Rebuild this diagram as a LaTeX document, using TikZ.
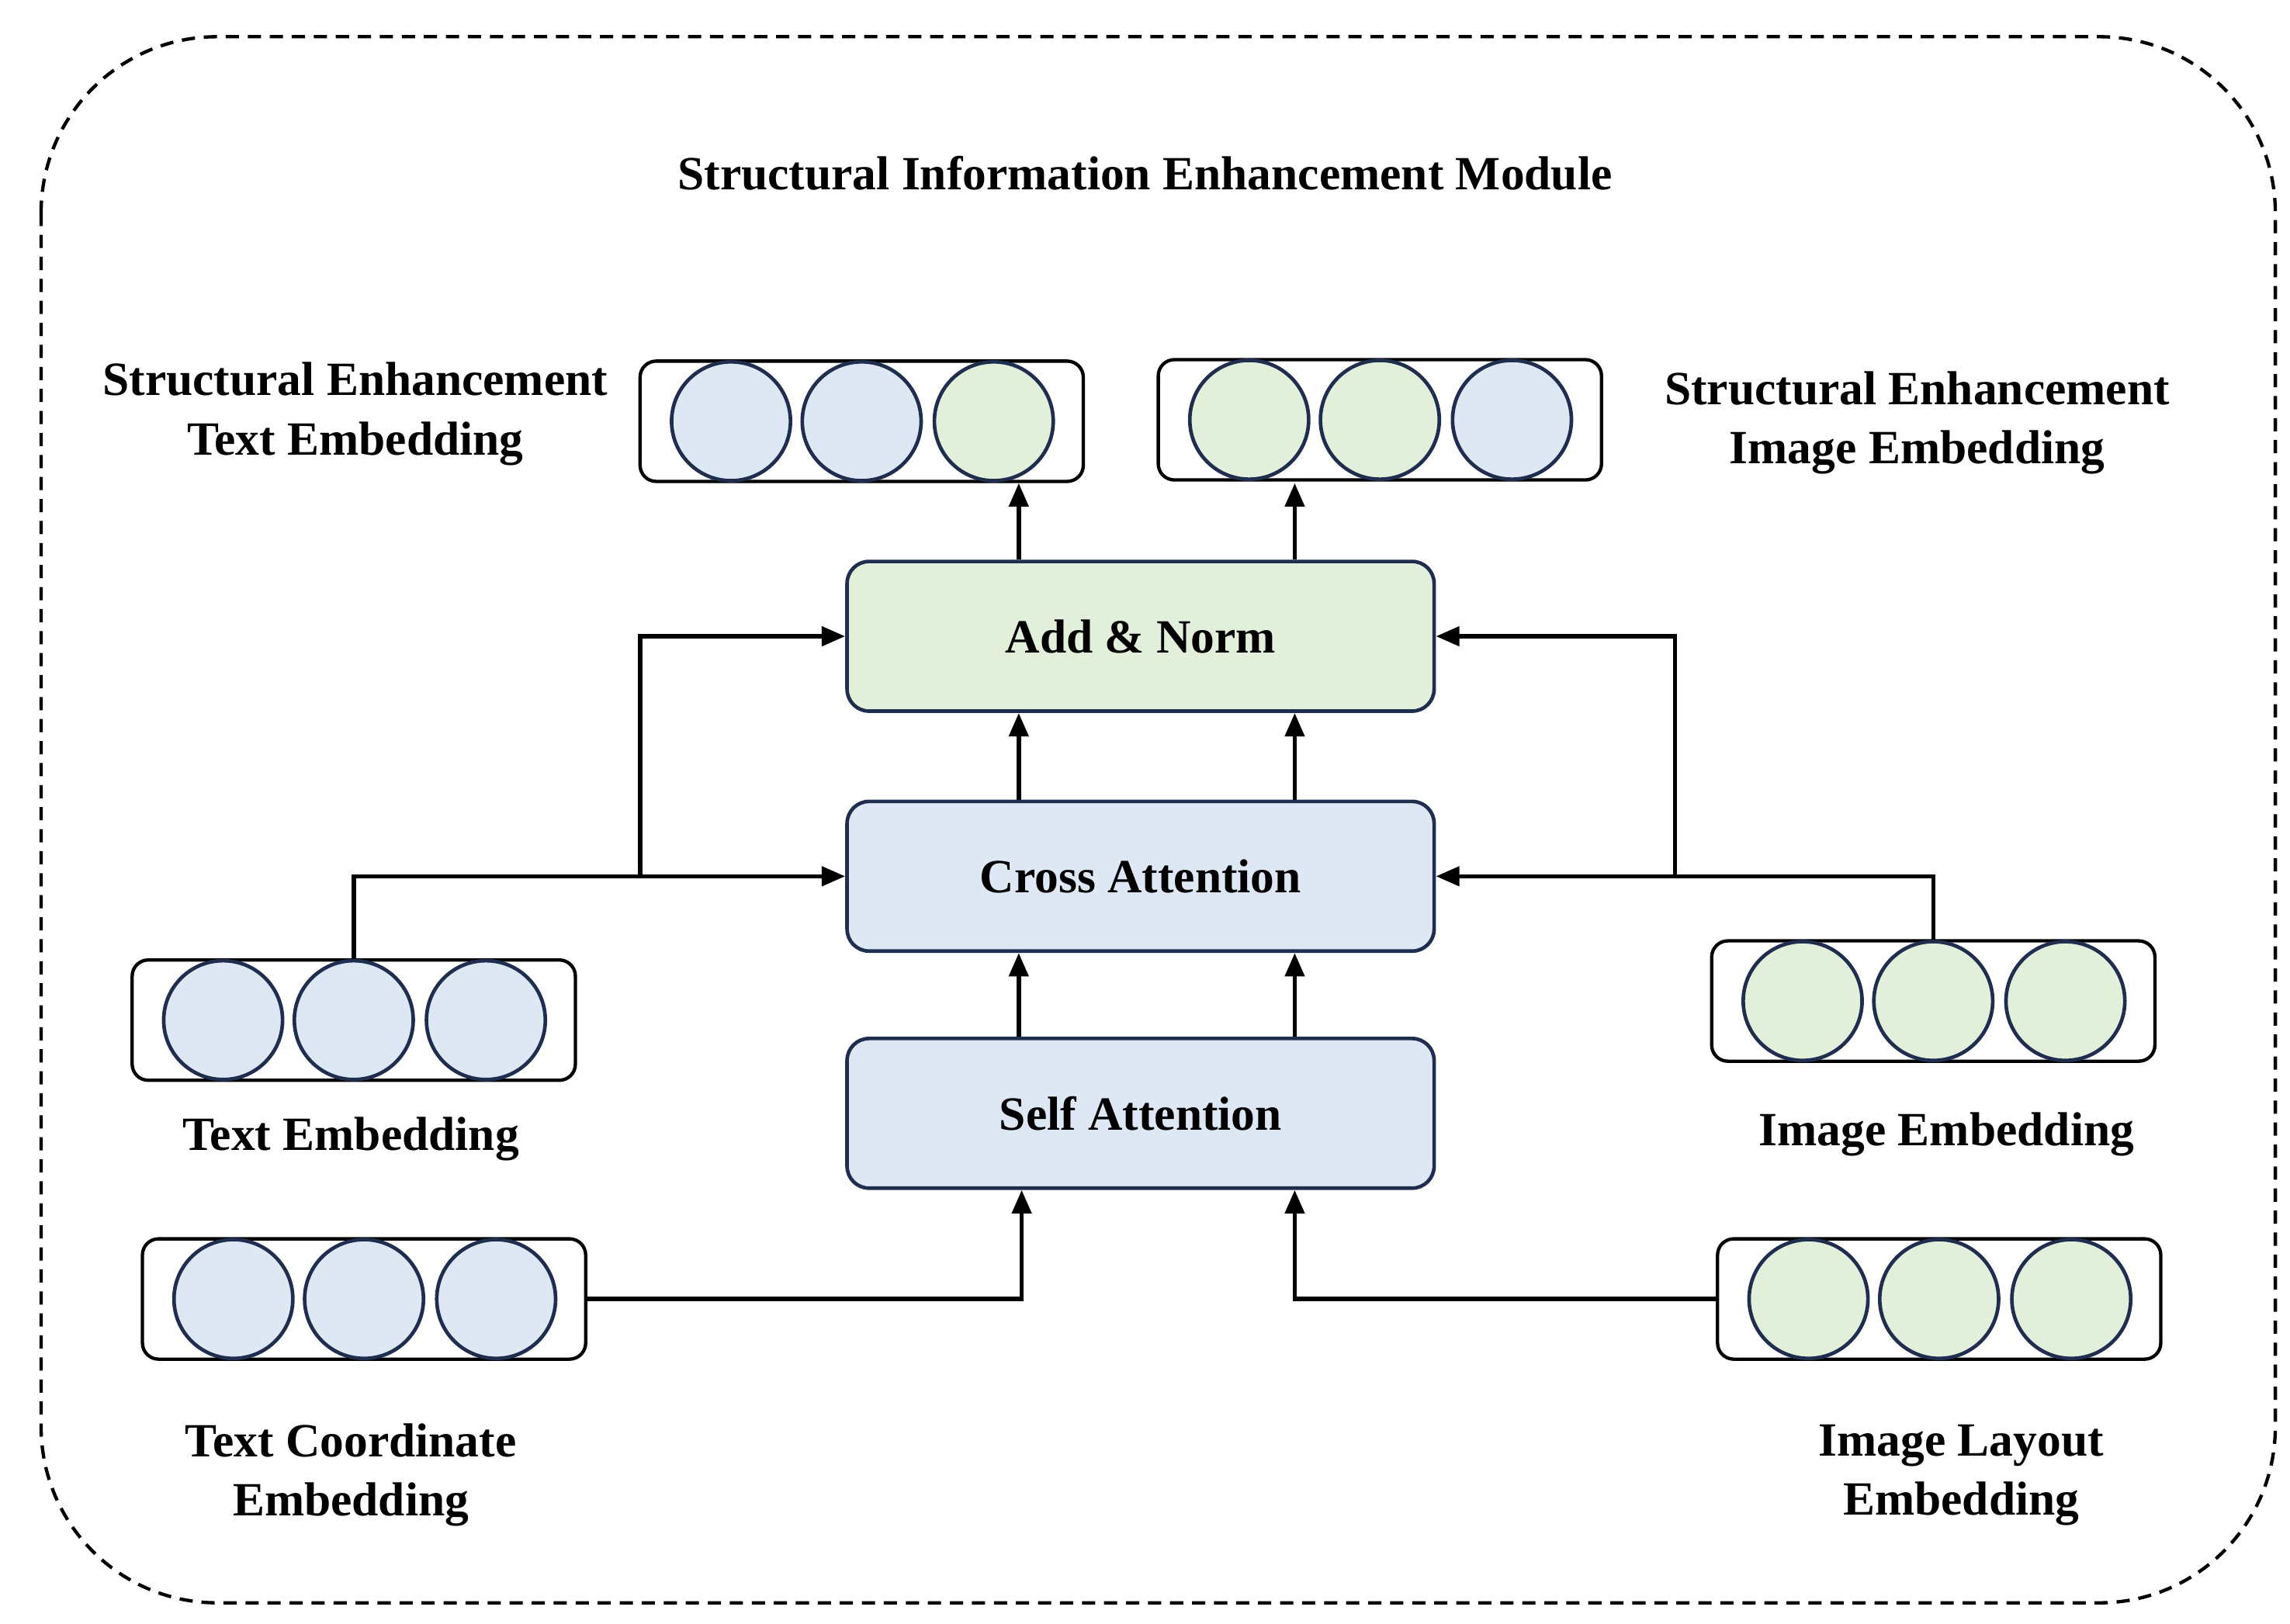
\documentclass[tikz,border=0pt]{standalone}
\usepackage{fontspec}
\setmainfont{Liberation Serif}
\usetikzlibrary{arrows.meta}
\definecolor{cblue}{HTML}{DEE8F4}
\definecolor{cgreen}{HTML}{E2EFDA}
\definecolor{navy}{HTML}{1F2D4E}
\begin{document}
\begin{tikzpicture}[x=0.02cm,y=-0.02cm,
  lbl/.style={font=\fontsize{18.5}{23}\selectfont\bfseries,align=center},
  block/.style={draw=navy,line width=1.4pt,rounded corners=0.3cm,minimum width=8cm,minimum height=2.04cm,inner sep=0pt,font=\fontsize{18.5}{23}\selectfont\bfseries},
  ebox/.style={draw=black,line width=1.3pt,rounded corners=0.22cm,minimum width=6.04cm,minimum height=1.64cm,inner sep=0pt},
  circ/.style={circle,draw=navy,line width=1.4pt,minimum size=1.62cm,inner sep=0pt},
  arr/.style={line width=1.7pt,-{Triangle[length=0.32cm,width=0.26cm]}},
  ln/.style={line width=1.7pt}]
\useasboundingbox (0,0) rectangle (1560,1106);
\draw[line width=1.3pt,dash pattern=on 0.18cm off 0.12cm,rounded corners=2.4cm] (28,25) rectangle (1550,1092);
\node[lbl] (title) at (780,118) {Structural Information Enhancement Module};
\newcommand{\emb}[6]{%
  \node[ebox] (#1) at (#2,#3) {};
  \node[circ,fill=#4] (#1a) at (#2-89,#3) {};
  \node[circ,fill=#5] (#1b) at (#2,#3) {};
  \node[circ,fill=#6] (#1c) at (#2+90,#3) {};}
\emb{set}{587}{287}{cblue}{cblue}{cgreen}
\emb{sei}{940}{286}{cgreen}{cgreen}{cblue}
\emb{te}{241}{695}{cblue}{cblue}{cblue}
\emb{ie}{1317}{682}{cgreen}{cgreen}{cgreen}
\emb{tc}{248}{885}{cblue}{cblue}{cblue}
\emb{il}{1321}{885}{cgreen}{cgreen}{cgreen}
\node[block,fill=cgreen] (add) at (777,433.5) {Add \& Norm};
\node[block,fill=cblue] (cross) at (777,597) {Cross Attention};
\node[block,fill=cblue] (self) at (777,758.5) {Self Attention};
\node[lbl] (l1) at (242,282) {Structural Enhancement\\Text Embedding};
\node[lbl] (l2) at (1306,288) {Structural Enhancement\\Image Embedding};
\node[lbl] (l3) at (239,776) {Text Embedding};
\node[lbl] (l4) at (1326,773) {Image Embedding};
\node[lbl] (l5) at (239,1005) {Text Coordinate\\Embedding};
\node[lbl] (l6) at (1336,1005) {Image Layout\\Embedding};
\foreach \x in {694,882}{
  \draw[arr] (\x,0 |- add.north) -- (\x,0 |- set.south);
  \draw[arr] (\x,0 |- cross.north) -- (\x,0 |- add.south);
  \draw[arr] (\x,0 |- self.north) -- (\x,0 |- cross.south);
}
\draw[arr] (tc.east) -- (696,885) -- (696,0 |- self.south);
\draw[arr] (il.west) -- (882,885) -- (882,0 |- self.south);
\draw[arr] (teb.north) -- (teb.north |- cross.west) -- (cross.west);
\draw[arr] (436,0 |- cross.west) -- (436,0 |- add.west) -- (add.west);
\draw[arr] (ieb.north) -- (ieb.north |- cross.east) -- (cross.east);
\draw[arr] (1141,0 |- cross.east) -- (1141,0 |- add.east) -- (add.east);
\end{tikzpicture}
\end{document}
